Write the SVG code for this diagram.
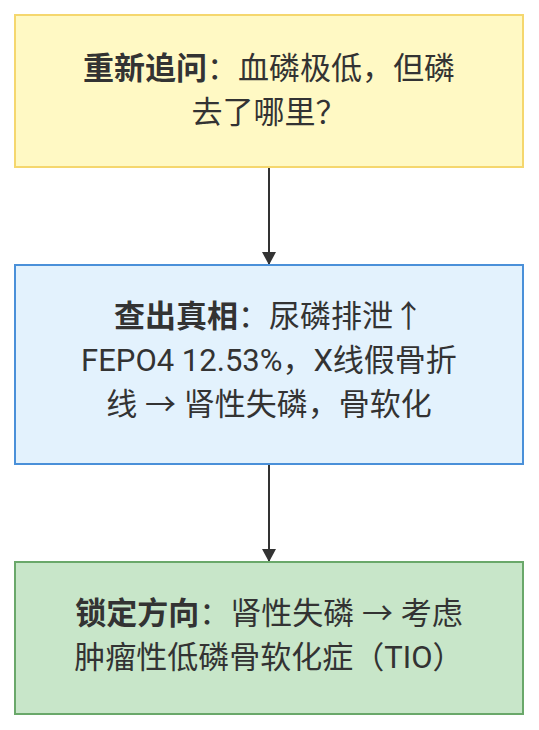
<svg xmlns="http://www.w3.org/2000/svg" width="539" height="730" viewBox="0 0 539 730">
<style>
.t{font-family:"Roboto","Noto Sans CJK SC",sans-serif;font-size:31px;fill:#333333;text-anchor:middle}
.b{font-weight:bold}
.edge{stroke:#333333;stroke-width:2;fill:none}
</style>
<defs>
<marker id="arr" viewBox="0 0 13 14" refX="13" refY="7" markerWidth="13" markerHeight="14" markerUnits="userSpaceOnUse" orient="auto">
<path d="M0,0 L13,7 L0,14 z" fill="#333333"/>
</marker>
</defs>
<rect width="539" height="730" fill="#ffffff"/>
<g id="connectors">
<line class="edge" x1="269" y1="167" x2="269" y2="265" marker-end="url(#arr)"/>
<line class="edge" x1="269" y1="464" x2="269" y2="562" marker-end="url(#arr)"/>
</g>
<g id="node-A">
<rect x="15" y="15" width="508" height="152" fill="#fff9c4" stroke="#f5d76e" stroke-width="2"/>
<text class="t" x="269" y="79"><tspan class="b">重新追问</tspan>：血磷极低，但磷</text>
<text class="t" x="269" y="123">去了哪里？</text>
</g>
<g id="node-B">
<rect x="15" y="265" width="508" height="199" fill="#e3f2fd" stroke="#4a90d9" stroke-width="2"/>
<text class="t" x="269" y="327"><tspan class="b">查出真相</tspan>：尿磷排泄↑</text>
<text class="t" x="269" y="371">FEPO4 12.53%，X线假骨折</text>
<text class="t" x="269" y="415">线 → 肾性失磷，骨软化</text>
</g>
<g id="node-C">
<rect x="15" y="562" width="508" height="152" fill="#c8e6c9" stroke="#6aa86a" stroke-width="2"/>
<text class="t" x="269" y="624"><tspan class="b">锁定方向</tspan>：肾性失磷 → 考虑</text>
<text class="t" x="269" y="668">肿瘤性低磷骨软化症（TIO）</text>
</g>
</svg>
